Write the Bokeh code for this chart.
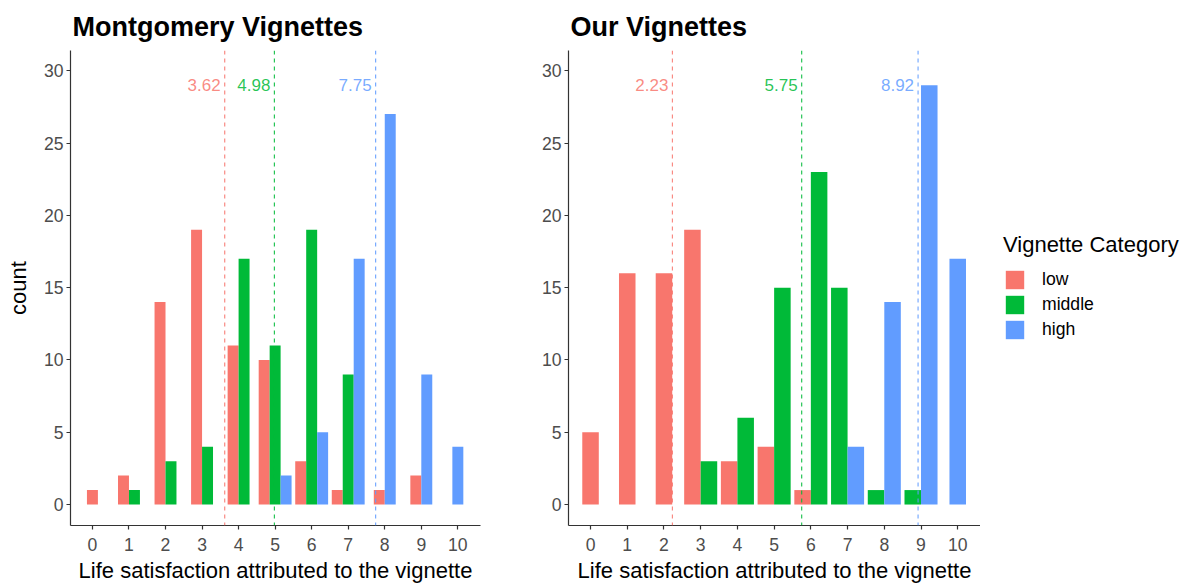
from bokeh.plotting import figure
from bokeh.models import Span, Legend, LegendItem, ColumnDataSource, FixedTicker, Range1d
from bokeh.layouts import row
from bokeh.core.properties import value
from bokeh.embed import file_html
from bokeh.resources import INLINE

# ---------------- data ----------------
scores = list(range(11))
groups = ["low", "middle", "high"]
colors = ["#F8766D", "#00BA38", "#619CFF"]

mont_low = [1, 2, 14, 19, 11, 10, 3, 1, 1, 2, 0]
mont_mid = [0, 1, 3, 4, 17, 11, 19, 9, 0, 0, 0]
mont_high = [0, 0, 0, 0, 0, 2, 5, 17, 27, 9, 4]
mont_means = [3.62, 4.98, 7.75]

our_low = [5, 16, 16, 19, 3, 4, 1, 0, 0, 0, 0]
our_mid = [0, 0, 0, 3, 6, 15, 23, 15, 1, 1, 0]
our_high = [0, 0, 0, 0, 0, 0, 0, 4, 14, 29, 17]
our_means = [2.23, 5.75, 8.92]

y_ticks = [0, 5, 10, 15, 20, 25, 30]
FONT = "Liberation Sans"
H = 586


def dodge(series, total=0.9):
    """ggplot position_dodge2(preserve='single')-like placement."""
    max_n = max(sum(1 for s in series if s[i] > 0) for i in range(len(scores)))
    w = total / max_n
    out = [{"x": [], "top": []} for _ in series]
    for i, xv in enumerate(scores):
        present = [g for g, s in enumerate(series) if s[i] > 0]
        n = len(present)
        for k, g in enumerate(present):
            out[g]["x"].append(xv + (k - (n - 1) / 2) * w)
            out[g]["top"].append(series[g][i])
    return out, w


def make_panel(title, series, means, width, mbl, mbr, ylabel):
    p = figure(width=width, height=H, output_backend="svg", toolbar_location=None,
               x_range=Range1d(-0.6, 10.62), y_range=Range1d(-1.45, 31.4),
               min_border_left=mbl, min_border_right=mbr, min_border_top=50,
               min_border_bottom=61, title=title)
    p.outline_line_color = None
    p.grid.visible = False
    p.background_fill_color = "white"
    p.title.text_font = FONT
    p.title.text_font_size = "27px"
    p.title.text_font_style = "bold"
    p.title.text_color = "black"
    p.title.offset = 2
    p.title.standoff = 18

    placed, w = dodge(series)
    for g, c in enumerate(colors):
        src = ColumnDataSource(placed[g])
        p.vbar(x="x", top="top", bottom=0, width=w, source=src,
               fill_color=c, line_color=None)

    for m, c in zip(means, colors):
        p.add_layout(Span(location=m, dimension="height", line_color=c,
                          line_dash="4 4", line_width=1.2, line_alpha=0.85))
    p.text(x=means, y=[29] * len(means), text=["%.2f" % m for m in means],
           text_color=colors, text_align="right", text_baseline="middle",
           x_offset=-4, text_font=value(FONT), text_font_size="17px", text_alpha=0.85)

    for ax in (p.xaxis[0], p.yaxis[0]):
        ax.axis_line_color = "#333333"
        ax.axis_line_width = 1.2
        ax.major_tick_line_color = "#333333"
        ax.major_tick_line_width = 1.2
        ax.major_tick_out = 4
        ax.major_tick_in = 0
        ax.minor_tick_line_color = None
        ax.major_label_text_font = FONT
        ax.major_label_text_font_size = "17.6px"
        ax.major_label_text_color = "#4D4D4D"
        ax.axis_label_text_font = FONT
        ax.axis_label_text_font_size = "22px"
        ax.axis_label_text_font_style = "normal"
        ax.axis_label_text_color = "black"
    p.xaxis.ticker = FixedTicker(ticks=scores)
    p.yaxis.ticker = FixedTicker(ticks=y_ticks)
    p.xaxis.major_label_standoff = 8
    p.yaxis.major_label_standoff = 3
    p.xaxis.axis_label = "Life satisfaction attributed to the vignette"
    p.xaxis.axis_label_standoff = 4
    if ylabel:
        p.yaxis.axis_label = ylabel
        p.yaxis.axis_label_standoff = 10
    return p


p1 = make_panel("Montgomery Vignettes", [mont_low, mont_mid, mont_high], mont_means,
                508, 70, 28, "count")
p2 = make_panel("Our Vignettes", [our_low, our_mid, our_high], our_means,
                472, 60, 0, None)

# legend panel
p3 = figure(width=214, height=H, output_backend="svg", toolbar_location=None,
            x_range=Range1d(0, 1), y_range=Range1d(0, 1),
            min_border_left=0, min_border_right=0, min_border_top=0, min_border_bottom=0)
p3.axis.visible = False
p3.grid.visible = False
p3.outline_line_color = None
leg_rends = [p3.vbar(x=[5], top=[5], bottom=[4], width=0.5, fill_color=c, line_color=None)
             for c in colors]

legend = Legend(items=[LegendItem(label=g, renderers=[r]) for g, r in zip(groups, leg_rends)],
                location=(23, 184), orientation="vertical")
legend.title = "Vignette Category"
legend.title_text_font = FONT
legend.title_text_font_size = "22px"
legend.title_text_font_style = "normal"
legend.title_text_color = "black"
legend.title_standoff = 10
legend.label_text_font = FONT
legend.label_text_font_size = "17.6px"
legend.label_text_color = "black"
legend.glyph_width = 23
legend.glyph_height = 23
legend.label_height = 23
legend.label_standoff = 16
legend.spacing = 2
legend.padding = 10
legend.margin = 0
legend.border_line_color = None
legend.background_fill_alpha = 0
p3.add_layout(legend)

layout = row(p1, p2, p3)
open("out.html", "w").write(file_html(layout, INLINE))
